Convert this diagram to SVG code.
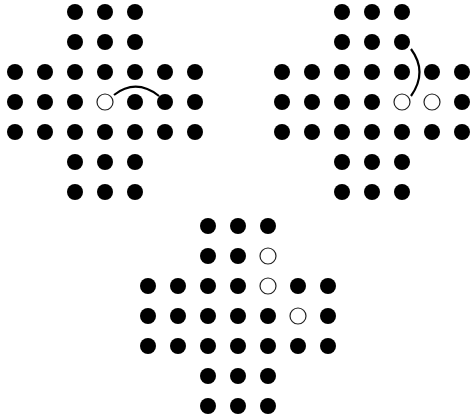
<svg xmlns="http://www.w3.org/2000/svg" width="472" height="418" viewBox="0 0 472 418">
<defs>
<style>
.peg{fill:#000}
.hole{fill:#fff;stroke:#222;stroke-width:1.2}
.jump{fill:none;stroke:#000;stroke-width:2.2}
</style>
<circle id="p" class="peg" r="8"/>
<circle id="h" class="hole" r="8"/>
<g id="boardBase">
<use href="#p" x="75" y="12"/><use href="#p" x="105" y="12"/><use href="#p" x="135" y="12"/>
<use href="#p" x="75" y="42"/><use href="#p" x="105" y="42"/><use href="#p" x="135" y="42"/>
<use href="#p" x="15" y="72"/><use href="#p" x="45" y="72"/><use href="#p" x="75" y="72"/><use href="#p" x="105" y="72"/><use href="#p" x="135" y="72"/><use href="#p" x="165" y="72"/><use href="#p" x="195" y="72"/>
<use href="#p" x="15" y="102"/><use href="#p" x="45" y="102"/><use href="#p" x="75" y="102"/>
<use href="#p" x="195" y="102"/>
<use href="#p" x="15" y="132"/><use href="#p" x="45" y="132"/><use href="#p" x="75" y="132"/><use href="#p" x="105" y="132"/><use href="#p" x="135" y="132"/><use href="#p" x="165" y="132"/><use href="#p" x="195" y="132"/>
<use href="#p" x="75" y="162"/><use href="#p" x="105" y="162"/><use href="#p" x="135" y="162"/>
<use href="#p" x="75" y="192"/><use href="#p" x="105" y="192"/><use href="#p" x="135" y="192"/>
</g>
</defs>
<g id="board1">
<use href="#boardBase"/>
<use href="#h" x="105" y="102"/>
<use href="#p" x="135" y="102"/>
<use href="#p" x="165" y="102"/>
</g>
<g id="board2" transform="translate(267,0)">
<use href="#boardBase"/>
<use href="#p" x="105" y="102"/>
<use href="#h" x="135" y="102"/>
<use href="#h" x="165" y="102"/>
</g>
<g id="board3" transform="translate(133,214)">
<use href="#p" x="75" y="12"/><use href="#p" x="105" y="12"/><use href="#p" x="135" y="12"/>
<use href="#p" x="75" y="42"/><use href="#p" x="105" y="42"/><use href="#h" x="135" y="42"/>
<use href="#p" x="15" y="72"/><use href="#p" x="45" y="72"/><use href="#p" x="75" y="72"/><use href="#p" x="105" y="72"/><use href="#h" x="135" y="72"/><use href="#p" x="165" y="72"/><use href="#p" x="195" y="72"/>
<use href="#p" x="15" y="102"/><use href="#p" x="45" y="102"/><use href="#p" x="75" y="102"/><use href="#p" x="105" y="102"/><use href="#p" x="135" y="102"/><use href="#h" x="165" y="102"/><use href="#p" x="195" y="102"/>
<use href="#p" x="15" y="132"/><use href="#p" x="45" y="132"/><use href="#p" x="75" y="132"/><use href="#p" x="105" y="132"/><use href="#p" x="135" y="132"/><use href="#p" x="165" y="132"/><use href="#p" x="195" y="132"/>
<use href="#p" x="75" y="162"/><use href="#p" x="105" y="162"/><use href="#p" x="135" y="162"/>
<use href="#p" x="75" y="192"/><use href="#p" x="105" y="192"/><use href="#p" x="135" y="192"/>
</g>
<g id="connectors">
<path class="jump" d="M114,95 Q136,78 159,96"/>
<path class="jump" d="M411,49 Q428,72 411,96"/>
</g>
</svg>
